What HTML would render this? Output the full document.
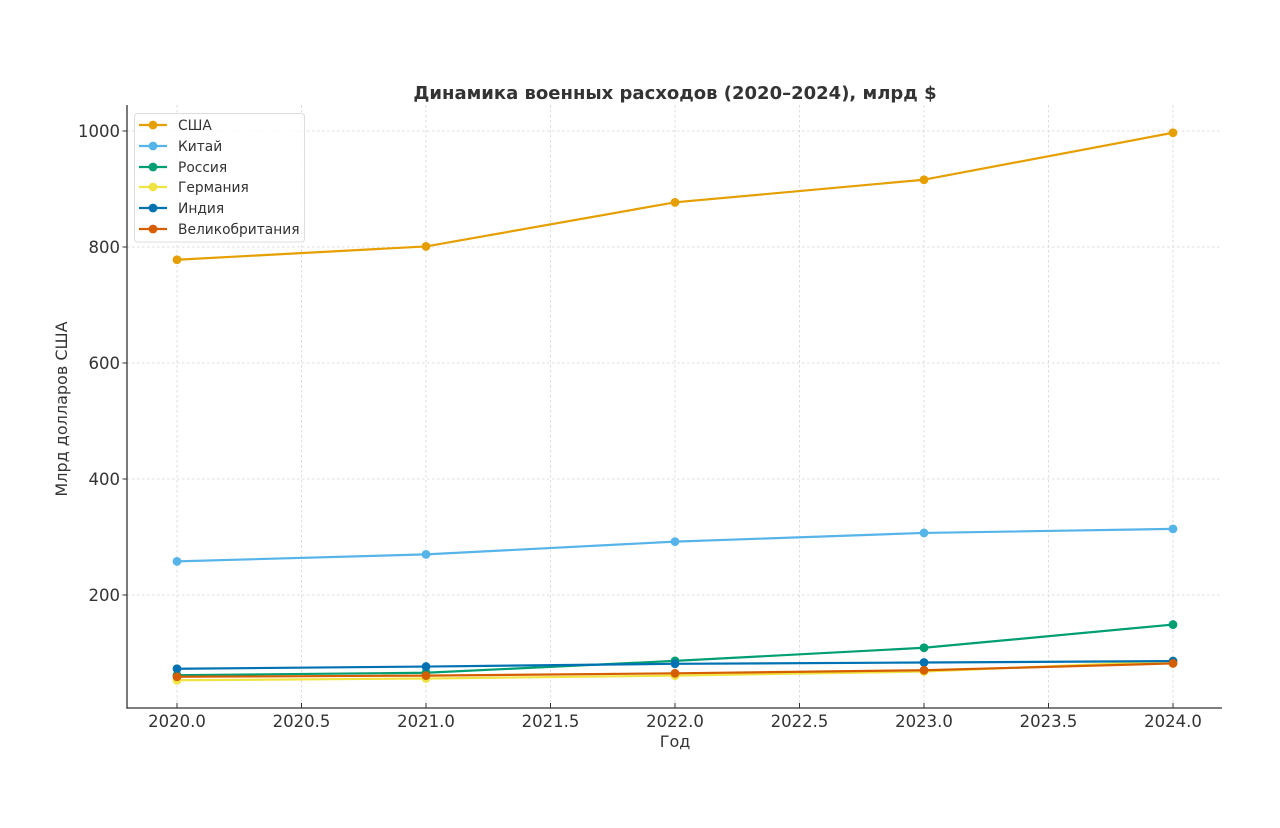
<!DOCTYPE html>
<html>
<head>
<meta charset="utf-8">
<style>
  html, body { margin: 0; padding: 0; background: #ffffff; }
  svg { display: block; }
  text { font-family: "DejaVu Sans", "Liberation Sans", sans-serif; fill: #333333; }
</style>
</head>
<body>
<svg width="1280" height="828" viewBox="0 0 1280 828" xmlns="http://www.w3.org/2000/svg">
  <rect x="0" y="0" width="1280" height="828" fill="#ffffff"/>

  <!-- Grid lines -->
  <g stroke="#d4d4d4" stroke-width="0.8" stroke-dasharray="2.5,2.5" fill="none">
    <line x1="177" y1="105" x2="177" y2="708"/>
    <line x1="301.5" y1="105" x2="301.5" y2="708"/>
    <line x1="426" y1="105" x2="426" y2="708"/>
    <line x1="550.5" y1="105" x2="550.5" y2="708"/>
    <line x1="675" y1="105" x2="675" y2="708"/>
    <line x1="799.5" y1="105" x2="799.5" y2="708"/>
    <line x1="924" y1="105" x2="924" y2="708"/>
    <line x1="1048.5" y1="105" x2="1048.5" y2="708"/>
    <line x1="1173" y1="105" x2="1173" y2="708"/>
    <line x1="127" y1="131" x2="1222" y2="131"/>
    <line x1="127" y1="247" x2="1222" y2="247"/>
    <line x1="127" y1="363" x2="1222" y2="363"/>
    <line x1="127" y1="479" x2="1222" y2="479"/>
    <line x1="127" y1="595" x2="1222" y2="595"/>
  </g>

  <!-- Series -->
  <g fill="none" stroke-width="2.2" stroke-linejoin="round" stroke-linecap="round">
    <!-- USA -->
    <polyline stroke="#E69F00" points="177,259.76 426,246.42 675,202.34 924,179.72 1173,132.74"/>
    <g fill="#E69F00" stroke="none">
      <circle cx="177" cy="259.76" r="4.4"/><circle cx="426" cy="246.42" r="4.4"/><circle cx="675" cy="202.34" r="4.4"/><circle cx="924" cy="179.72" r="4.4"/><circle cx="1173" cy="132.74" r="4.4"/>
    </g>
    <!-- China -->
    <polyline stroke="#56B4E9" points="177,561.36 426,554.4 675,541.64 924,532.94 1173,528.88"/>
    <g fill="#56B4E9" stroke="none">
      <circle cx="177" cy="561.36" r="4.4"/><circle cx="426" cy="554.4" r="4.4"/><circle cx="675" cy="541.64" r="4.4"/><circle cx="924" cy="532.94" r="4.4"/><circle cx="1173" cy="528.88" r="4.4"/>
    </g>
    <!-- Russia -->
    <polyline stroke="#009E73" points="177,675.21 426,672.78 675,660.89 924,647.78 1173,624.58"/>
    <g fill="#009E73" stroke="none">
      <circle cx="177" cy="675.21" r="4.4"/><circle cx="426" cy="672.78" r="4.4"/><circle cx="675" cy="660.89" r="4.4"/><circle cx="924" cy="647.78" r="4.4"/><circle cx="1173" cy="624.58" r="4.4"/>
    </g>
    <!-- Germany -->
    <polyline stroke="#F0E442" points="177,680.26 426,678.52 675,675.62 924,671.56 1173,661.12"/>
    <g fill="#F0E442" stroke="none">
      <circle cx="177" cy="680.26" r="4.4"/><circle cx="426" cy="678.52" r="4.4"/><circle cx="675" cy="675.62" r="4.4"/><circle cx="924" cy="671.56" r="4.4"/><circle cx="1173" cy="661.12" r="4.4"/>
    </g>
    <!-- India -->
    <polyline stroke="#0072B2" points="177,668.72 426,666.57 675,663.79 924,662.51 1173,661.06"/>
    <g fill="#0072B2" stroke="none">
      <circle cx="177" cy="668.72" r="4.4"/><circle cx="426" cy="666.57" r="4.4"/><circle cx="675" cy="663.79" r="4.4"/><circle cx="924" cy="662.51" r="4.4"/><circle cx="1173" cy="661.06" r="4.4"/>
    </g>
    <!-- UK -->
    <polyline stroke="#D55E00" points="177,676.78 426,675.62 675,673.3 924,670.23 1173,663.44"/>
    <g fill="#D55E00" stroke="none">
      <circle cx="177" cy="676.78" r="4.4"/><circle cx="426" cy="675.62" r="4.4"/><circle cx="675" cy="673.3" r="4.4"/><circle cx="924" cy="670.23" r="4.4"/><circle cx="1173" cy="663.44" r="4.4"/>
    </g>
  </g>

  <!-- Spines -->
  <g stroke="#333333" stroke-width="1.3" fill="none">
    <line x1="127" y1="105" x2="127" y2="708.6"/>
    <line x1="126.4" y1="708" x2="1222" y2="708"/>
  </g>
  <!-- Ticks -->
  <g stroke="#333333" stroke-width="1" fill="none">
    <line x1="177" y1="708" x2="177" y2="703"/>
    <line x1="301.5" y1="708" x2="301.5" y2="703"/>
    <line x1="426" y1="708" x2="426" y2="703"/>
    <line x1="550.5" y1="708" x2="550.5" y2="703"/>
    <line x1="675" y1="708" x2="675" y2="703"/>
    <line x1="799.5" y1="708" x2="799.5" y2="703"/>
    <line x1="924" y1="708" x2="924" y2="703"/>
    <line x1="1048.5" y1="708" x2="1048.5" y2="703"/>
    <line x1="1173" y1="708" x2="1173" y2="703"/>
    <line x1="122.5" y1="131" x2="127" y2="131"/>
    <line x1="122.5" y1="247" x2="127" y2="247"/>
    <line x1="122.5" y1="363" x2="127" y2="363"/>
    <line x1="122.5" y1="479" x2="127" y2="479"/>
    <line x1="122.5" y1="595" x2="127" y2="595"/>
  </g>

  <!-- X tick labels -->
  <g font-size="16.5" text-anchor="middle">
    <text x="177" y="727">2020.0</text>
    <text x="301.5" y="727">2020.5</text>
    <text x="426" y="727">2021.0</text>
    <text x="550.5" y="727">2021.5</text>
    <text x="675" y="727">2022.0</text>
    <text x="799.5" y="727">2022.5</text>
    <text x="924" y="727">2023.0</text>
    <text x="1048.5" y="727">2023.5</text>
    <text x="1173" y="727">2024.0</text>
  </g>
  <!-- Y tick labels -->
  <g font-size="16.5" text-anchor="end">
    <text x="120" y="137">1000</text>
    <text x="120" y="253">800</text>
    <text x="120" y="369">600</text>
    <text x="120" y="485">400</text>
    <text x="120" y="601">200</text>
  </g>

  <!-- Axis labels -->
  <text x="675" y="747" font-size="16" text-anchor="middle">Год</text>
  <text x="0" y="0" font-size="16" text-anchor="middle" transform="translate(67,409) rotate(-90)">Млрд долларов США</text>

  <!-- Title -->
  <text x="675" y="99" font-size="18" font-weight="bold" text-anchor="middle">Динамика военных расходов (2020–2024), млрд $</text>

  <!-- Legend -->
  <rect x="134.5" y="113.5" width="170" height="128.5" rx="3" ry="3" fill="#ffffff" fill-opacity="0.85" stroke="#dddddd" stroke-width="1"/>
  <g stroke-width="2.2" fill="none">
    <line x1="139" y1="125" x2="167" y2="125" stroke="#E69F00"/>
    <line x1="139" y1="146" x2="167" y2="146" stroke="#56B4E9"/>
    <line x1="139" y1="167" x2="167" y2="167" stroke="#009E73"/>
    <line x1="139" y1="187" x2="167" y2="187" stroke="#F0E442"/>
    <line x1="139" y1="208" x2="167" y2="208" stroke="#0072B2"/>
    <line x1="139" y1="229" x2="167" y2="229" stroke="#D55E00"/>
  </g>
  <circle cx="153" cy="125" r="4.4" fill="#E69F00"/>
  <circle cx="153" cy="146" r="4.4" fill="#56B4E9"/>
  <circle cx="153" cy="167" r="4.4" fill="#009E73"/>
  <circle cx="153" cy="187" r="4.4" fill="#F0E442"/>
  <circle cx="153" cy="208" r="4.4" fill="#0072B2"/>
  <circle cx="153" cy="229" r="4.4" fill="#D55E00"/>
  <g font-size="13.8">
    <text x="178" y="130">США</text>
    <text x="178" y="151">Китай</text>
    <text x="178" y="172">Россия</text>
    <text x="178" y="192">Германия</text>
    <text x="178" y="213">Индия</text>
    <text x="178" y="234">Великобритания</text>
  </g>
</svg>
</body>
</html>
